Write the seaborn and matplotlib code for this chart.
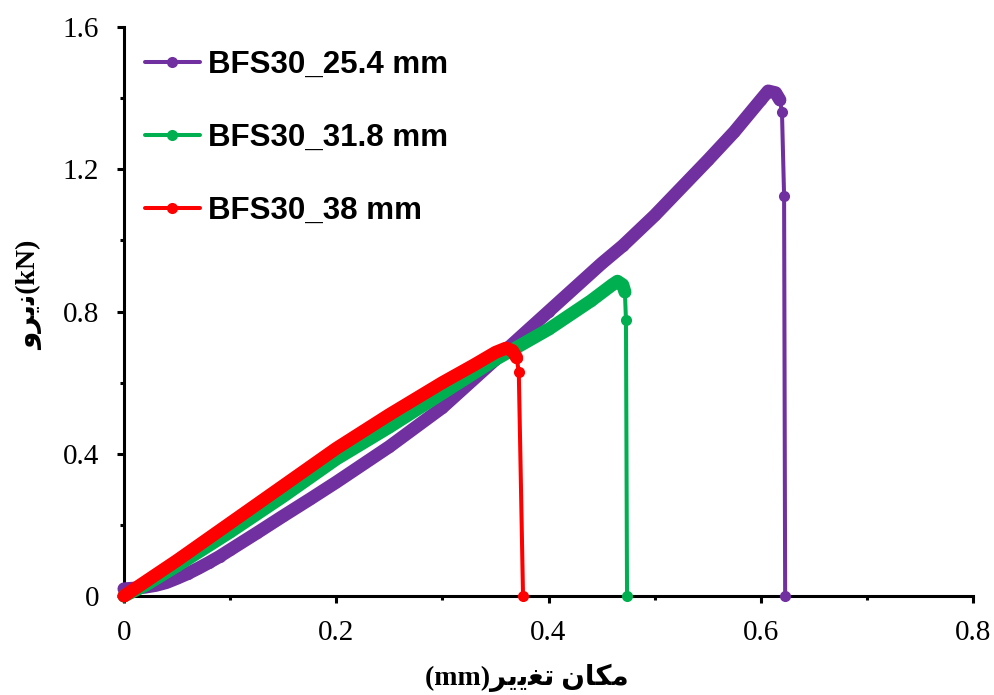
import matplotlib
matplotlib.use("Agg")
import matplotlib.pyplot as plt
from matplotlib.ticker import MultipleLocator
import seaborn as sns
import pandas as pd

# Load-displacement readings for the three BFS30 specimens
disp_254 = [0.000, 0.010, 0.020, 0.030, 0.040, 0.050, 0.060, 0.070, 0.080, 0.090,
            0.100, 0.125, 0.150, 0.175, 0.200, 0.250, 0.300, 0.350, 0.400, 0.450,
            0.470, 0.500, 0.550, 0.575, 0.600, 0.607, 0.614, 0.618, 0.620, 0.622,
            0.623]
load_254 = [0.020, 0.022, 0.025, 0.030, 0.038, 0.050, 0.063, 0.078, 0.094, 0.111,
            0.130, 0.177, 0.225, 0.272, 0.320, 0.420, 0.530, 0.665, 0.800, 0.935,
            0.985, 1.070, 1.225, 1.305, 1.395, 1.420, 1.415, 1.395, 1.360, 1.125,
            0.000]

disp_318 = [0.000, 0.020, 0.050, 0.100, 0.150, 0.200, 0.250, 0.300, 0.350, 0.400,
            0.440, 0.460, 0.465, 0.470, 0.472, 0.473, 0.474]
load_318 = [0.000, 0.030, 0.085, 0.180, 0.280, 0.385, 0.475, 0.570, 0.665, 0.750,
            0.830, 0.875, 0.885, 0.875, 0.855, 0.776, 0.000]

disp_38 = [0.000, 0.050, 0.100, 0.150, 0.200, 0.250, 0.300, 0.330, 0.350, 0.360,
           0.366, 0.370, 0.372, 0.376]
load_38 = [0.000, 0.100, 0.205, 0.310, 0.415, 0.510, 0.600, 0.650, 0.685, 0.697,
           0.690, 0.670, 0.630, 0.000]

labels = ["BFS30_25.4 mm", "BFS30_31.8 mm", "BFS30_38 mm"]
colors = ["#7030A0", "#00B050", "#FF0000"]
# number of trailing readings after the rupture point (drawn as sparse markers)
n_drop = [3, 2, 2]

xticks = [0, 0.2, 0.4, 0.6, 0.8]
yticks = [0, 0.4, 0.8, 1.2, 1.6]
xtick_labels = ["0", "0.2", "0.4", "0.6", "0.8"]
ytick_labels = ["0", "0.4", "0.8", "1.2", "1.6"]

series = [(disp_254, load_254), (disp_318, load_318), (disp_38, load_38)]

sns.set_theme(style="white")
plt.rcParams["font.family"] = ["Liberation Serif", "DejaVu Sans"]
plt.rcParams["text.color"] = "black"
plt.rcParams["axes.labelcolor"] = "black"

fig = plt.figure(figsize=(9.94, 6.95), dpi=100)
ax = fig.add_axes([124 / 994, 1 - 596 / 695, 849 / 994, 569 / 695])

for (xs, ys), lab, col, nd in zip(series, labels, colors, n_drop):
    df = pd.DataFrame({"x": xs, "y": ys})
    # thin line with markers across the full record
    sns.lineplot(data=df, x="x", y="y", ax=ax, sort=False, estimator=None,
                 color=col, lw=2.9, marker="o", ms=8.0, mew=0, mec=col,
                 clip_on=False, label=lab, legend=False, zorder=3)
    # densely sampled rising branch renders as a heavy band
    band = df.iloc[:len(df) - nd]
    sns.lineplot(data=band, x="x", y="y", ax=ax, sort=False, estimator=None,
                 color=col, lw=9.4, solid_capstyle="round",
                 solid_joinstyle="round", clip_on=False, label="_nolegend_",
                 legend=False, zorder=3)

ax.set_xlim(0, 0.8)
ax.set_ylim(0, 1.6)
ax.set_xticks(xticks)
ax.set_xticklabels(xtick_labels)
ax.set_yticks(yticks)
ax.set_yticklabels(ytick_labels)
ax.xaxis.set_minor_locator(MultipleLocator(0.1))
ax.yaxis.set_minor_locator(MultipleLocator(0.2))

for side in ["top", "right"]:
    ax.spines[side].set_visible(False)
for side in ["left", "bottom"]:
    ax.spines[side].set_color("black")
    ax.spines[side].set_linewidth(2.2)

ax.tick_params(axis="both", which="major", direction="out", length=5,
               width=2.2, color="black", labelsize=21, labelcolor="black")
ax.tick_params(axis="both", which="minor", direction="out", length=3.2,
               width=2.2, color="black")
ax.tick_params(axis="x", which="major", pad=12, bottom=True)
ax.tick_params(axis="x", which="minor", bottom=True)
ax.tick_params(axis="y", which="major", pad=13, left=True)
ax.tick_params(axis="y", which="minor", left=True)
ax.grid(False)

# Persian axis titles, glyphs given in presentation forms in display order
xlabel = "(mm)" + "\uFEAE\uFBFE\uFBFE\uFED0\uFE97" + " " + "\uFEE5\uFE8E\uFB91\uFEE3"
ylabel = "\uFEED\uFEAE\uFBFE\uFEE7" + "(kN)"
ax.set_xlabel(xlabel, fontsize=20, fontweight="bold", va="center", color="black",
              family=["Liberation Serif", "DejaVu Sans"])
ax.set_ylabel(ylabel, fontsize=20, fontweight="bold", va="center", color="black",
              family=["Liberation Serif", "DejaVu Sans"])
ax.xaxis.set_label_coords((527 - 124) / 849, -(678 - 596) / 569)
ax.yaxis.set_label_coords(-(124 - 30) / 849, (596 - 295) / 569)

leg = ax.legend(loc="upper left", bbox_to_anchor=(145 / 994, 1 - 50 / 695),
                bbox_transform=fig.transFigure, frameon=False,
                prop={"family": "Liberation Sans", "weight": "bold", "size": 22.5},
                handlelength=1.75, handletextpad=0.25, labelspacing=1.38,
                borderpad=0, borderaxespad=0, labelcolor="black")
for h in leg.legend_handles:
    h.set_linewidth(2.9)
    h.set_markersize(8.0)

fig.savefig("out.png", dpi=100)
